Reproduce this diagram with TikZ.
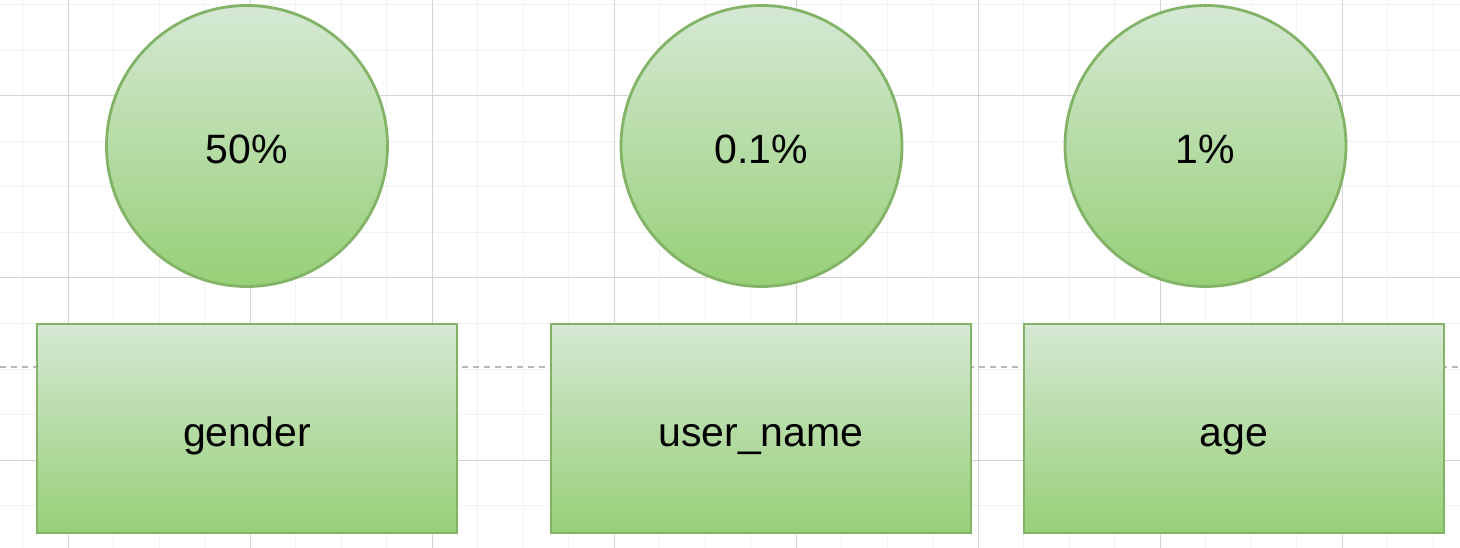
\documentclass[tikz,border=0pt]{standalone}
\usepackage{fontspec}
\setmainfont{Liberation Sans}
\definecolor{gridmajor}{HTML}{D4D4D4}
\definecolor{gridminor}{HTML}{F2F2F2}
\definecolor{pagebreak}{HTML}{B8B8B8}
\definecolor{gtop}{HTML}{D5E8D4}
\definecolor{gbot}{HTML}{97D077}
\definecolor{gstroke}{HTML}{82B366}
\tikzset{
  greenshape/.style={draw=gstroke, line width=2.8pt, top color=gtop, bottom color=gbot,
    font=\fontsize{41}{48}\selectfont, text=black, inner sep=0pt,
    text height=36pt, text depth=0pt},
  valuecircle/.style={greenshape, circle, minimum size=281pt},
  fieldbox/.style={greenshape, rectangle, minimum width=420pt, minimum height=209pt},
}
\begin{document}
\begin{tikzpicture}[x=1pt,y=-1pt]
\useasboundingbox (0,0) rectangle (1460,548);
\fill[white] (0,0) rectangle (1460,548);
% minor grid
\foreach \k in {0,...,31} {
  \draw[gridminor, line width=1pt] ({22.5+45.5*\k},0) -- ({22.5+45.5*\k},548);
}
\foreach \k in {0,...,11} {
  \draw[gridminor, line width=1pt] (0,{5+45.5*\k}) -- (1460,{5+45.5*\k});
}
% major grid
\foreach \k in {0,...,7} {
  \draw[gridmajor, line width=1pt] ({68+182*\k},0) -- ({68+182*\k},548);
}
\foreach \k in {0,...,2} {
  \draw[gridmajor, line width=1pt] (0,{96+182*\k}) -- (1460,{96+182*\k});
}
% page break line
\coordinate (pbl) at (0,367);
\coordinate (pbr) at (1460,367);
\draw[pagebreak, line width=1.2pt, dash pattern=on 6pt off 5pt] (pbl) -- (pbr);
% circles
\node[valuecircle] (c1) at (247,146) {50\%};
\node[valuecircle] (c2) at (761.5,146) {0.1\%};
\node[valuecircle] (c3) at (1205.5,146) {1\%};
% boxes
\node[fieldbox] (r1) at (247,428.5) {gender};
\node[fieldbox] (r2) at (761,428.5) {user\_name};
\node[fieldbox] (r3) at (1234,428.5) {age};
\end{tikzpicture}
\end{document}
